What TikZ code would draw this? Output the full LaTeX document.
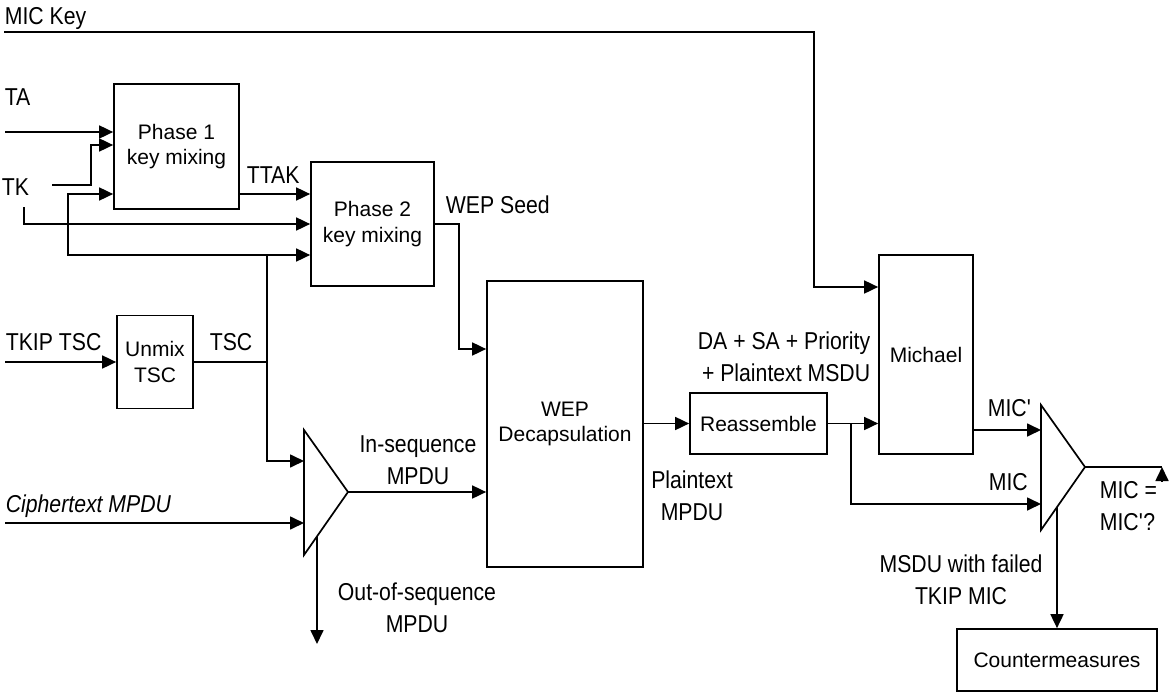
\documentclass[tikz,border=0pt]{standalone}
\usepackage{fontspec}
\setmainfont{Liberation Sans}
\newfontfamily\narrowsf{Liberation Sans}[FakeStretch=0.87]
\usetikzlibrary{arrows.meta,calc}

\begin{document}
\begin{tikzpicture}[x=1pt,y=-1pt,>={Triangle[length=14pt,width=13pt]},line width=1.7pt,
    blk/.style={draw,inner sep=0pt,align=center,font=\fontsize{21}{25.5}\selectfont},
    lbl/.style={inner sep=0pt,font=\narrowsf\fontsize{24.4}{31.5}\selectfont}]
    \fill[white] (0,0) rectangle (1170,693);
    \useasboundingbox (0,0) rectangle (1170,693);
    % blocks
    \node[blk,minimum width=125pt,minimum height=125pt] (ph1) at (176.5,146.5) {Phase 1\\key mixing};
    \node[blk,minimum width=123pt,minimum height=124pt] (ph2) at (372.5,224) {Phase 2\\key mixing};
    \node[blk,minimum width=76pt,minimum height=93pt] (unmix) at (155,362) {Unmix\\TSC};
    \node[blk,minimum width=156pt,minimum height=286pt] (wep) at (565,424) {WEP\\Decapsulation};
    \node[blk,minimum width=137pt,minimum height=61pt] (reas) at (758.5,423.5) {Reassemble};
    \node[blk,minimum width=94pt,minimum height=199pt] (mich) at (926,354.5) {Michael};
    \node[blk,minimum width=200pt,minimum height=62pt] (cm) at (1057,660) {Countermeasures};
    % comparators
    \coordinate (sqin1) at (304,461); \coordinate (sqin2) at (304,523); \coordinate (sqtip) at (348,492);
    \draw (304,430) -- (sqtip) -- (304,555) -- cycle;
    \coordinate (cmpin1) at (1041,430); \coordinate (cmpin2) at (1041,504); \coordinate (cmptip) at (1085,467);
    \draw (1041,405) -- (cmptip) -- (1041,530) -- cycle;
    % labels (multi-line ones sit on their last baseline)
    \node[lbl,anchor=base west] (mickeytxt) at (4,25) {MIC Key};
    \node[lbl,anchor=base west] (tatxt) at (4,106) {TA};
    \node[lbl,anchor=base west] (tktxt) at (1,195) {TK};
    \node[lbl,anchor=base west] (ttaktxt) at (246,183) {TTAK};
    \node[lbl,anchor=base west] (seedtxt) at (445,213) {WEP Seed};
    \node[lbl,anchor=base west] (tkiptxt) at (5,350) {TKIP TSC};
    \node[lbl,anchor=base west] (tsctxt) at (209,350) {TSC};
    \node[lbl,anchor=base west] (cttxt) at (5,512) {\itshape Ciphertext MPDU};
    \node[lbl,align=center,anchor=base] (instxt) at (418,484) {In-sequence\\MPDU};
    \node[lbl,align=center,anchor=base] (oostxt) at (417,632) {Out-of-sequence\\MPDU};
    \node[lbl,align=center,anchor=base] (pttxt) at (692,520) {Plaintext\\MPDU};
    \node[lbl,align=right,anchor=base east] (datxt) at (871,381) {DA + SA + Priority\\+ Plaintext MSDU};
    \node[lbl,anchor=base west] (micptxt) at (987,416) {MIC\textquotesingle};
    \node[lbl,anchor=base west] (mictxt) at (988,490) {MIC};
    \node[lbl,align=left,anchor=base west] (eqtxt) at (1099,530) {MIC =\\MIC\textquotesingle?};
    \node[lbl,align=center,anchor=base] (failtxt) at (961,604) {MSDU with failed\\TKIP MIC};
    % key inputs
    \coordinate (mk) at (4,32); \coordinate (mkb) at (814,287);
    \draw[->] (mk) -| (mkb) -- (mkb -| mich.west);
    \coordinate (ta) at (5,132);
    \draw[->] (ta) -- (ta -| ph1.west);
    \coordinate (tk) at (52,185); \coordinate (tkb) at (91,145);
    \draw[->] (tk) -| (tkb) -- (tkb -| ph1.west);
    \coordinate (tk2) at (24,207); \coordinate (tk2b) at (24,224);
    \draw[->] (tk2) -- (tk2b) -- (tk2b -| ph2.west);
    % TSC
    \coordinate (tkip) at (5,362);
    \draw[->] (tkip) -- (unmix.west);
    \coordinate (tscj) at (267,362); \coordinate (tscup) at (267,255);
    \coordinate (tscleft) at (68,255); \coordinate (ttak) at (68,194);
    \draw (unmix.east) -- (tscj);
    \draw[->] (tscj) -- (tscup) -- (tscup -| ph2.west);
    \draw[->] (tscup) -- (tscleft) -- (ttak) -- (ttak -| ph1.west);
    \draw[->] (tscj) |- (sqin1);
    \draw[->] (ph1.east |- ttak) -- (ph2.west |- ttak);
    \coordinate (seed) at (459,349);
    \draw[->] (ph2.east |- tk2b) -| (seed) -- (seed -| wep.west);
    % MPDU path
    \coordinate (ct) at (5,523);
    \draw[->] (ct) -- (sqin2);
    \draw[->] (sqtip) -- (sqtip -| wep.west);
    \coordinate (oos) at (317,537); \coordinate (oosend) at (317,644);
    \draw[->] (oos) -- (oosend);
    \draw[->] (wep.east |- reas.west) -- (reas.west);
    \draw[->] (reas.east) -- (reas.east -| mich.west);
    \coordinate (rj) at (851,423.5);
    \draw[->] (rj) |- (cmpin2);
    \draw[->] (mich.east |- cmpin1) -- (cmpin1);
    % result
    \coordinate (outend) at (1162,467); \coordinate (outfoot) at (1162,481);
    \draw (cmptip) -- (outend);
    \draw[->] (outfoot) -- (outend);
    \coordinate (fail) at (1057,507);
    \draw[->] (fail) -- (cm.north);
\end{tikzpicture}
\end{document}
